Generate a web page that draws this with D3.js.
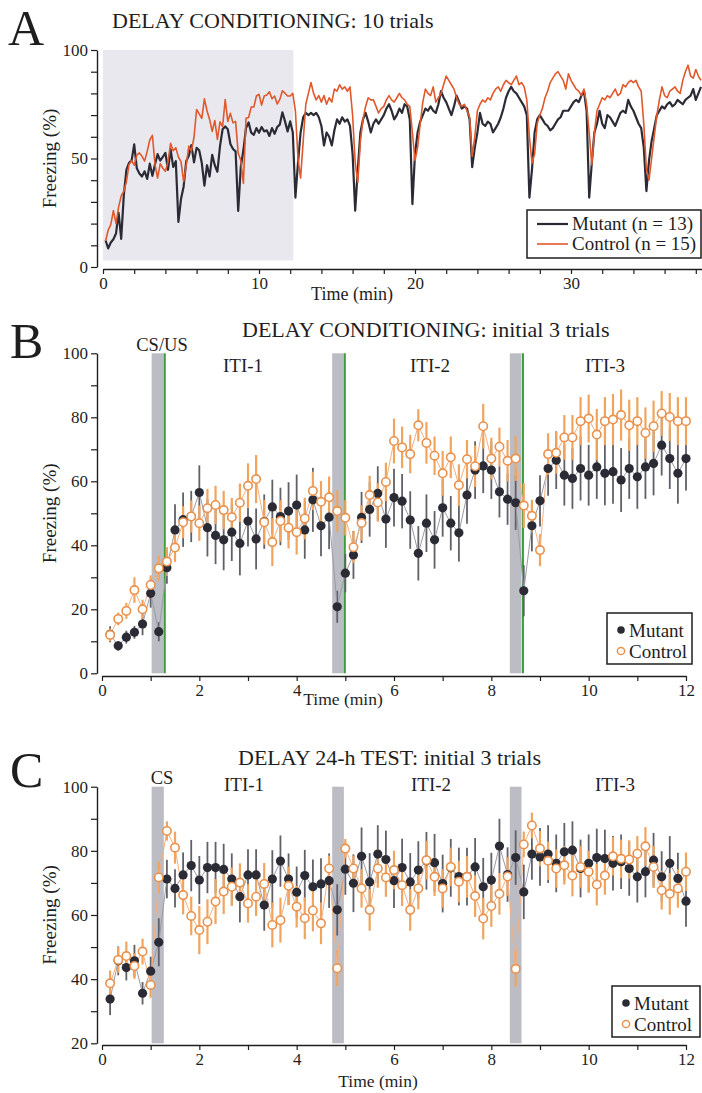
<!DOCTYPE html>
<html>
<head>
<meta charset="utf-8">
<script src="https://cdn.jsdelivr.net/npm/d3@7"></script>
<style>
body { margin: 0; background: #fff; }
text { font-family: "Liberation Serif", "Times New Roman", serif; fill: #1e1e1e; }
</style>
</head>
<body>
<div id="chart"></div>
<script>
// 10-s bins, first bin ends at 1/6 min
var binMin = 1 / 6

// --- panel B: conditioning, first 12 min (also the first 12 min of panel A)
var bMutant = [12.2, 8.6, 11.3, 12.8, 15.4, 25, 13, 33, 44.8, 48, 49, 56.5,
  45.5, 43.1, 41.7, 44.1, 40.6, 47.6, 42, 47.4, 52, 49, 50.7, 52.6,
  44.8, 54.2, 46.1, 48.8, 20.8, 31.3, 37, 48.7, 51.2, 56.2, 48.2, 54.9,
  53.8, 47.9, 37.5, 46.9, 41.7, 51.7, 46.9, 43.9, 55.7, 63.5, 64.8, 63.5,
  56.7, 54.4, 53.3, 25.8, 46.1, 53.9, 64, 66.6, 61.9, 60.9, 64, 61.9,
  64.5, 62.5, 63, 60.4, 64, 61.4, 64.5, 65.6, 71.3, 67.1, 62.5, 67.1]
var bMutantErr = [2.5, 1.5, 2, 2, 3.5, 4.5, 3, 5, 8, 8.5, 8, 8.5,
  9, 9, 9.5, 9, 10, 8, 9.5, 8.5, 8.5, 9, 9, 9.5,
  9, 10, 9.5, 10, 5, 6, 7.5, 8, 8.5, 8.5, 9, 9,
  8.5, 9, 8.5, 9, 9, 9, 8.5, 9, 9, 9, 8.5, 9,
  8, 8, 8.5, 8, 8, 8, 8.5, 9, 9.5, 9.5, 10, 9.5,
  10, 10, 10, 10, 9.5, 10, 10, 10, 9.5, 9.5, 9.5, 10]
var bControl = [12, 17, 19.5, 26, 20, 27.6, 32.8, 34.9, 39.3, 47.2, 49, 46.9,
  51.6, 52.6, 51, 48.8, 53.3, 58.6, 60.7, 47.2, 41, 47.6, 45.5, 44.1,
  48.4, 57, 53.6, 55, 50.7, 48.6, 39.4, 47, 55.7, 53.4, 59.8, 72.6,
  70.6, 68.5, 77.5, 72, 68, 62.5, 67.5, 58.8, 66.9, 64.7, 77.2, 67.1,
  70.8, 66.4, 67.1, 52.4, 49.2, 38.5, 68.5, 68.9, 73.7, 73.7, 78.8, 79.6,
  74.6, 78.8, 79.3, 80.7, 77.5, 78.8, 75.1, 77.2, 81.2, 80.1, 78.8, 78.8]
var bControlErr = [2, 2, 2.5, 4, 3, 3, 4, 4.5, 4.5, 5, 5, 5.5,
  6, 6, 6, 6, 6, 7, 7.5, 7, 7.5, 6.5, 6.5, 7,
  6.5, 6, 6.5, 6.5, 6.5, 5.5, 5, 5.5, 6, 6, 6, 7,
  6.5, 6, 5, 6.5, 6, 7, 6.5, 6.5, 6, 6.5, 7, 6.5,
  6, 6.5, 7, 7, 5, 5, 6.5, 6.5, 7, 7, 7.5, 7.5,
  8, 7.5, 8, 8, 8, 7.5, 8, 8, 7, 7.5, 7.5, 7.5]

// --- panel A: 12-38 min of the 10-trial session
var aMutantLate = [62, 32, 48, 62, 69, 71, 70, 71, 70, 71, 69, 65,
  56, 62, 60, 56, 63, 68, 66, 69, 67, 68, 65, 52,
  26, 45, 62, 68, 71, 67, 62, 66, 68, 66, 68, 70,
  73, 75, 72, 68, 70, 73, 71, 75, 74, 68, 29, 52,
  62, 67, 70, 73, 72, 74, 72, 71, 75, 81, 78, 76,
  73, 70, 74, 79, 76, 73, 74, 73, 68, 46, 55, 62,
  71, 66, 65, 67, 66, 62, 64, 66, 69, 73, 78, 81,
  83, 81, 80, 78, 76, 74, 70, 32, 45, 62, 68, 70,
  68, 66, 65, 63, 64, 66, 68, 69, 72, 72, 72, 74,
  76, 77, 76, 79, 81, 72, 32, 48, 62, 66, 72, 66,
  64, 70, 69, 67, 65, 68, 71, 72, 71, 77, 74, 72,
  69, 66, 64, 55, 35, 49, 58, 64, 70, 72, 74, 73,
  75, 76, 74, 75, 77, 76, 75, 77, 78, 79, 82, 77,
  80, 83]
var aControlLate = [80, 72, 50, 41, 58, 75, 80, 85, 80, 77, 79, 76,
  79, 75, 78, 76, 82, 81, 84, 82, 83, 81, 83, 70,
  48, 39, 58, 68, 74, 78, 77, 77, 74, 71, 73, 74,
  77, 79, 77, 76, 78, 80, 78, 77, 75, 74, 62, 49,
  55, 66, 76, 82, 80, 79, 83, 76, 78, 80, 84, 88,
  86, 84, 82, 78, 75, 74, 75, 72, 69, 51, 60, 72,
  75, 77, 76, 78, 77, 80, 82, 83, 81, 84, 86, 85,
  84, 86, 88, 84, 85, 83, 77, 60, 48, 52, 66, 70,
  73, 78, 81, 85, 87, 89, 90, 88, 86, 82, 89, 86,
  84, 82, 81, 79, 82, 75, 62, 47, 62, 72, 75, 78,
  77, 79, 78, 80, 82, 79, 80, 84, 83, 85, 86, 85,
  86, 83, 81, 66, 45, 40, 50, 60, 70, 77, 83, 79,
  78, 81, 82, 83, 81, 80, 86, 90, 93, 88, 87, 91,
  88, 86]
var aMutant = bMutant.concat(aMutantLate)
var aControl = bControl.concat(aControlLate)
var aShade = [0, 12.2]

// --- panel C: 24-h test
var cMutant = [33.8, 45.7, 43.6, 45.7, 35.6, 42.5, 51.5, 71.2, 68.3, 72.5, 75.4, 70.9,
  74.8, 74.8, 74.2, 71.2, 65.7, 72.5, 72.5, 63.1, 71.2, 76.8, 71.2, 67.1,
  72.3, 68.8, 69.7, 70.7, 61.6, 74.3, 69.9, 78.3, 70.3, 79, 77.3, 70.7,
  74.8, 70.3, 74, 76.9, 76.3, 69.8, 74.7, 72, 72, 75, 68.8, 70.9,
  81.5, 72.6, 77.9, 67.2, 79, 78.1, 79, 76.1, 79.7, 80.2, 74.5, 76.1,
  77.9, 77.6, 76.1, 76.6, 74.5, 71.9, 73.5, 77.1, 71.9, 76.1, 71.4, 64.3]
var cMutantErr = [5, 4.5, 4, 5, 3.5, 4.5, 7.5, 6, 6, 7, 8, 7.5,
  8, 8, 8, 8, 8, 8, 8, 8, 9, 8, 8, 8,
  8, 8.5, 8, 8.5, 8, 8, 9, 9, 9, 9, 9, 8.5,
  9, 9, 9, 9, 9, 9, 9, 9, 9, 9, 9, 8.5,
  8.5, 8.5, 8.5, 8.5, 8, 9, 9, 9, 9, 9, 9, 9,
  9, 9, 8.5, 8.5, 8.5, 8, 8, 8.5, 8, 8.5, 8, 8]
var cControl = [38.7, 46, 47.2, 44.1, 48.6, 38.2, 71.7, 86.2, 81, 66.2, 59.7, 55.3,
  57.9, 64.2, 67.3, 68.8, 70.1, 63.6, 65.7, 69.7, 56.9, 58.4, 69.1, 62.6,
  59, 61.4, 57.4, 74.5, 43.4, 80.7, 74.5, 68.3, 61.6, 74.5, 71.7, 74,
  69.3, 61.6, 68.3, 77.1, 71.9, 68.3, 75, 70.4, 71.9, 65.9, 58.9, 62.8,
  66.6, 72, 43.2, 82, 87.9, 80.7, 76.9, 74.5, 75.5, 72.3, 75, 73.5,
  69.5, 72.3, 78.3, 77.5, 77.3, 79.1, 81.4, 75, 67.7, 66.6, 68.3, 73.5]
var cControlErr = [4, 4, 4.5, 4, 4, 4, 5, 3, 5, 6, 6, 7.5,
  7, 7, 7, 6, 6, 6, 6, 6.5, 7, 7, 6, 6.5,
  6.5, 6.5, 6.5, 4, 5.5, 3, 4, 6, 6.5, 6, 6, 6,
  6.5, 6.5, 6.5, 6, 6, 6, 6, 6.5, 6.5, 6.5, 6.5, 6.5,
  6.5, 6, 5.5, 4, 4, 5.5, 6, 6, 6, 6.5, 6.5, 6.5,
  6.5, 6, 6, 6, 6, 5.5, 6, 6.5, 6, 6.5, 6, 6]

// CS periods (gray) and US shock (green), minutes
var csBands = [[1.02, 1.27], [4.73, 4.97], [8.38, 8.62]]
var usTimes = [1.29, 4.99, 8.65]
var itiNames = ["ITI-1", "ITI-2", "ITI-3"]

var W = 702, H = 1093
var darkCol = "#2b2b35", lineOrange = "#e0582c", ctrlCol = "#ea914c"
var serif = '"Liberation Serif", "Times New Roman", serif'

var svg = d3.select("#chart").append("svg")
  .attr("width", W).attr("height", H)

function styleAxis(g, size) {
  g.attr("font-family", serif).attr("font-size", size)
  g.select(".domain").attr("stroke", "#1e1e1e").attr("stroke-width", 1.4)
  g.selectAll(".tick line").attr("stroke", "#1e1e1e").attr("stroke-width", 1.2)
  g.selectAll(".tick text").attr("fill", "#1e1e1e")
}

/* ------- PANEL A ------- */
var xA = d3.scaleLinear().domain([0, 38.5]).range([103, 103 + 38.5 * 15.6])
var yA = d3.scaleLinear().domain([0, 100]).range([267, 50])

svg.append("rect")
  .attr("x", xA(aShade[0])).attr("width", xA(aShade[1]) - xA(aShade[0]))
  .attr("y", yA(100)).attr("height", yA(3) - yA(100))
  .attr("fill", "#e8e8ee")

svg.append("g").attr("transform", "translate(97,0)")
  .call(d3.axisLeft(yA).tickValues(d3.range(0, 101, 10))
    .tickFormat(function(d) { return d % 50 == 0 ? d : "" })
    .tickSize(6).tickSizeOuter(0))
  .call(styleAxis, 17)

svg.append("g").attr("transform", "translate(0,269)")
  .call(d3.axisBottom(xA).tickValues(d3.range(0, 39, 2))
    .tickFormat(function(d) { return d % 10 == 0 ? d : "" })
    .tickSize(5).tickSizeOuter(0))
  .call(styleAxis, 17)

var lineA = d3.line()
  .x(function(d, i) { return xA((i + 1) * binMin) })
  .y(function(d) { return yA(d) })

svg.append("path").datum(aMutant).attr("d", lineA)
  .attr("fill", "none").attr("stroke", darkCol).attr("stroke-width", 2.2)
  .attr("stroke-linejoin", "round")
svg.append("path").datum(aControl).attr("d", lineA)
  .attr("fill", "none").attr("stroke", lineOrange).attr("stroke-width", 1.6)
  .attr("stroke-linejoin", "round")

// legend A
var legA = svg.append("g").attr("transform", "translate(527,210)")
legA.append("rect").attr("width", 174).attr("height", 48)
  .attr("fill", "#fff").attr("stroke", "#1e1e1e").attr("stroke-width", 1.5)
legA.append("line").attr("x1", 10).attr("x2", 41).attr("y1", 14).attr("y2", 14)
  .attr("stroke", darkCol).attr("stroke-width", 2.2)
legA.append("line").attr("x1", 10).attr("x2", 41).attr("y1", 34).attr("y2", 34)
  .attr("stroke", lineOrange).attr("stroke-width", 1.6)
legA.append("text").attr("x", 45).attr("y", 20).attr("font-size", 19).text("Mutant (n = 13)")
legA.append("text").attr("x", 45).attr("y", 40).attr("font-size", 19).text("Control (n = 15)")

svg.append("text").attr("x", 8).attr("y", 45).attr("font-size", 50).text("A")
svg.append("text").attr("x", 112).attr("y", 28).attr("font-size", 22)
  .text("DELAY CONDITIONING: 10 trials")
svg.append("text").attr("x", 352).attr("y", 300).attr("font-size", 18)
  .attr("text-anchor", "middle").text("Time (min)")
svg.append("text").attr("font-size", 19).attr("text-anchor", "middle")
  .attr("transform", "translate(56," + yA(50) + ") rotate(-90)")
  .text("Freezing (%)")

/* ------- PANELS B and C ------- */
var xT = d3.scaleLinear().domain([0, 12]).range([102, 686])

function trialPanel(p) {
  var y = d3.scaleLinear().domain([p.yMin, 100]).range(p.yRange)
  var g = svg.append("g")

  csBands.forEach(function(b) {
    g.append("rect")
      .attr("x", xT(b[0])).attr("width", xT(b[1]) - xT(b[0]))
      .attr("y", y(100)).attr("height", y(p.yMin) - y(100))
      .attr("fill", "#bcbcc4")
  })
  if (p.shock) {
    usTimes.forEach(function(t) {
      g.append("line").attr("x1", xT(t)).attr("x2", xT(t))
        .attr("y1", y(100)).attr("y2", y(p.yMin))
        .attr("stroke", "#3e9e3e").attr("stroke-width", 2)
    })
  }

  g.append("g").attr("transform", "translate(97,0)")
    .call(d3.axisLeft(y).tickValues(d3.range(p.yMin, 101, 10))
      .tickFormat(function(d) { return d % 20 == 0 ? d : "" })
      .tickSize(6).tickSizeOuter(0))
    .call(styleAxis, 17)
  g.append("g").attr("transform", "translate(0," + p.axisY + ")")
    .call(d3.axisBottom(xT).tickValues(d3.range(0, 13, 1))
      .tickFormat(function(d) { return d % 2 == 0 ? d : "" })
      .tickSize(5).tickSizeOuter(0))
    .call(styleAxis, 17)

  var tx = function(d, i) { return xT((i + 1) * binMin) }
  var line = d3.line().x(tx).y(function(d) { return y(d) })

  // error bars
  g.append("g").selectAll("line").data(p.mutant).join("line")
    .attr("x1", tx).attr("x2", tx)
    .attr("y1", function(d, i) { return y(Math.max(p.yMin, d - p.mutErr[i])) })
    .attr("y2", function(d, i) { return y(d + p.mutErr[i]) })
    .attr("stroke", "#606068").attr("stroke-width", 1.8)
  g.append("g").selectAll("line").data(p.control).join("line")
    .attr("x1", tx).attr("x2", tx)
    .attr("y1", function(d, i) { return y(Math.max(p.yMin, d - p.ctrlErr[i])) })
    .attr("y2", function(d, i) { return y(d + p.ctrlErr[i]) })
    .attr("stroke", "#f0a45e").attr("stroke-width", 2.2)

  g.append("path").datum(p.mutant).attr("d", line)
    .attr("fill", "none").attr("stroke", "#9a9aa6").attr("stroke-width", 1)
  g.append("path").datum(p.control).attr("d", line)
    .attr("fill", "none").attr("stroke", "#f2b080").attr("stroke-width", 1)

  g.append("g").selectAll("circle").data(p.mutant).join("circle")
    .attr("cx", tx).attr("cy", function(d) { return y(d) })
    .attr("r", 4.6).attr("fill", darkCol)
  g.append("g").selectAll("circle").data(p.control).join("circle")
    .attr("cx", tx).attr("cy", function(d) { return y(d) })
    .attr("r", 4.2).attr("fill", "#fff")
    .attr("stroke", ctrlCol).attr("stroke-width", 1.6)

  // texts
  g.append("text").attr("x", 10).attr("y", p.letterY).attr("font-size", 50).text(p.letter)
  g.append("text").attr("x", p.titleX).attr("y", p.titleY).attr("font-size", 22).text(p.title)
  g.append("text").attr("x", 162).attr("y", p.csY).attr("font-size", 18.5)
    .attr("text-anchor", "middle").text(p.csLabel)
  itiNames.forEach(function(n, i) {
    g.append("text").attr("x", p.itiX[i]).attr("y", p.itiY).attr("font-size", 19)
      .attr("text-anchor", "middle").text(n)
  })
  g.append("text").attr("x", p.timeX).attr("y", p.timeY).attr("font-size", 17.5)
    .attr("text-anchor", "middle").text("Time (min)")
  g.append("text").attr("font-size", 19).attr("text-anchor", "middle")
    .attr("transform", "translate(56," + y((p.yMin + 100) / 2) + ") rotate(-90)")
    .text("Freezing (%)")

  // legend
  var lg = g.append("g").attr("transform", "translate(" + p.legX + "," + p.legY + ")")
  lg.append("rect").attr("width", p.legW).attr("height", 51)
    .attr("fill", "#fff").attr("stroke", "#1e1e1e").attr("stroke-width", 1.5)
  lg.append("circle").attr("cx", 14).attr("cy", 17).attr("r", 3.8).attr("fill", darkCol)
  lg.append("circle").attr("cx", 14).attr("cy", 38).attr("r", 3.6)
    .attr("fill", "#fff").attr("stroke", ctrlCol).attr("stroke-width", 1.5)
  lg.append("text").attr("x", 22).attr("y", 24).attr("font-size", 19).text("Mutant")
  lg.append("text").attr("x", 22).attr("y", 45).attr("font-size", 19).text("Control")
}

trialPanel({
  mutant: bMutant, mutErr: bMutantErr, control: bControl, ctrlErr: bControlErr,
  yMin: 0, yRange: [673.3, 353.3], axisY: 676, shock: true,
  letter: "B", letterY: 358, title: "DELAY CONDITIONING: initial 3 trials", titleX: 242, titleY: 337,
  csLabel: "CS/US", csY: 351, itiX: [243, 430, 605], itiY: 372,
  timeX: 343, timeY: 705,
  legX: 607, legY: 613, legW: 85
})

trialPanel({
  mutant: cMutant, mutErr: cMutantErr, control: cControl, ctrlErr: cControlErr,
  yMin: 20, yRange: [1043.3, 786.7], axisY: 1045, shock: false,
  letter: "C", letterY: 787, title: "DELAY 24-h TEST: initial 3 trials", titleX: 238, titleY: 765,
  csLabel: "CS", csY: 784, itiX: [244, 431, 615], itiY: 791,
  timeX: 378, timeY: 1087,
  legX: 612, legY: 986, legW: 88
})
</script>
</body>
</html>
